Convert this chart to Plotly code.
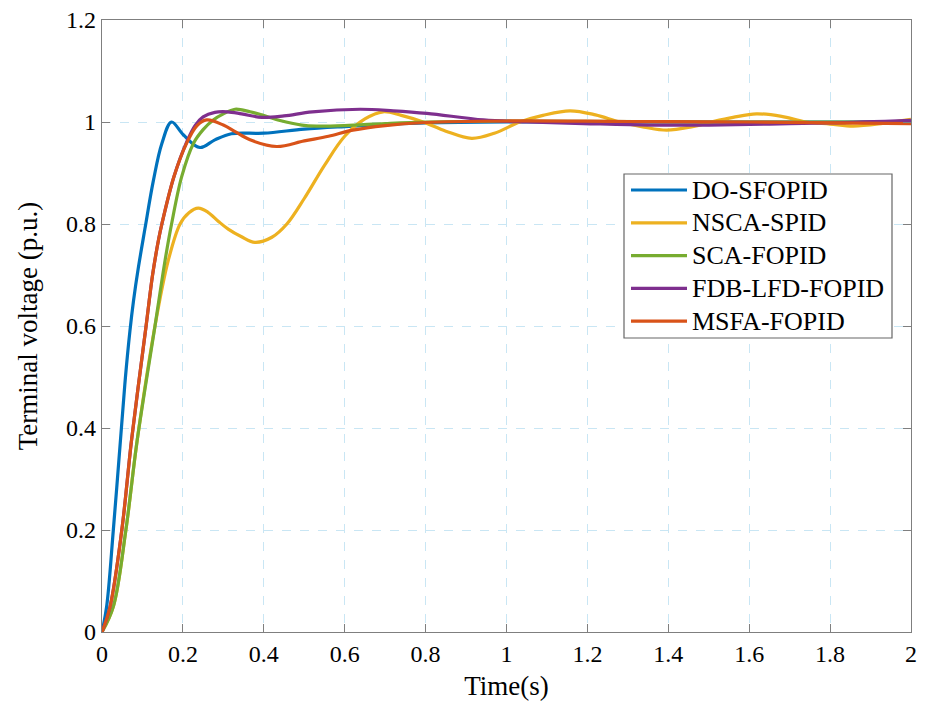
import plotly.graph_objects as go

# ---- data ----
t_do = [0, 0.0115, 0.028, 0.047, 0.058, 0.069, 0.078, 0.09, 0.106, 0.127, 0.148, 0.172, 0.201, 0.242, 0.279, 0.32, 0.4, 0.5, 0.6, 0.7, 0.8, 1.0, 1.5, 2.0]
v_do = [0, 0.05, 0.2, 0.39, 0.5, 0.59, 0.65, 0.715, 0.79, 0.885, 0.958, 1.0, 0.975, 0.950, 0.965, 0.977, 0.978, 0.986, 0.991, 0.995, 0.998, 1.0, 1.0, 1.0]

t_nsca = [0, 0.028, 0.059, 0.087, 0.131, 0.164, 0.193, 0.215, 0.238, 0.262, 0.288, 0.312, 0.345, 0.378, 0.42, 0.457, 0.5, 0.55, 0.6, 0.65, 0.695, 0.74, 0.794, 0.85, 0.914, 0.97, 1.033, 1.09, 1.157, 1.22, 1.28, 1.34, 1.396, 1.46, 1.507, 1.56, 1.618, 1.68, 1.74, 1.8, 1.857, 1.93, 2.0]
v_nsca = [0, 0.05, 0.2, 0.376, 0.6, 0.729, 0.8, 0.822, 0.831, 0.823, 0.805, 0.79, 0.775, 0.764, 0.774, 0.8, 0.85, 0.915, 0.972, 1.006, 1.020, 1.013, 1.0, 0.982, 0.968, 0.978, 1.0, 1.013, 1.022, 1.014, 1.0, 0.99, 0.984, 0.991, 1.0, 1.009, 1.016, 1.011, 1.0, 0.996, 0.992, 0.997, 1.005]

t_sca = [0, 0.028, 0.059, 0.087, 0.131, 0.156, 0.172, 0.197, 0.226, 0.25, 0.275, 0.3, 0.329, 0.366, 0.395, 0.44, 0.494, 0.53, 0.6, 0.7, 0.8, 1.0, 1.5, 2.0]
v_sca = [0, 0.05, 0.2, 0.376, 0.6, 0.729, 0.8, 0.893, 0.958, 0.985, 1.004, 1.016, 1.025, 1.020, 1.014, 1.003, 0.994, 0.992, 0.993, 0.997, 1.0, 1.002, 1.0, 1.0]

t_fdb = [0, 0.020, 0.049, 0.073, 0.109, 0.125, 0.14, 0.148, 0.178, 0.21, 0.23, 0.25, 0.279, 0.31, 0.345, 0.395, 0.45, 0.52, 0.638, 0.72, 0.803, 0.943, 1.05, 1.19, 1.355, 1.5, 1.65, 1.8, 2.0]
v_fdb = [0, 0.05, 0.2, 0.376, 0.6, 0.7, 0.77, 0.8, 0.893, 0.962, 0.993, 1.01, 1.019, 1.02, 1.016, 1.009, 1.012, 1.02, 1.025, 1.022, 1.017, 1.004, 1.0, 0.997, 0.994, 0.994, 0.996, 0.998, 1.003]

t_msfa = [0, 0.020, 0.049, 0.073, 0.109, 0.125, 0.14, 0.148, 0.178, 0.209, 0.235, 0.259, 0.3, 0.329, 0.366, 0.432, 0.5, 0.56, 0.62, 0.7, 0.8, 1.0, 1.3, 1.6, 2.0]
v_msfa = [0, 0.05, 0.2, 0.376, 0.6, 0.7, 0.77, 0.8, 0.893, 0.958, 0.993, 1.004, 0.994, 0.981, 0.965, 0.952, 0.963, 0.972, 0.984, 0.993, 0.999, 1.002, 1.001, 1.0, 0.997]

names = ["DO-SFOPID", "NSCA-SPID", "SCA-FOPID", "FDB-LFD-FOPID", "MSFA-FOPID"]
times = [t_do, t_nsca, t_sca, t_fdb, t_msfa]
values = [v_do, v_nsca, v_sca, v_fdb, v_msfa]
colors = ["#0072BD", "#EDB120", "#77AC30", "#7E2F8E", "#D95319"]

FONT = "Liberation Serif"
W, H = 927, 708
ML, MR, MT, MB = 102, 16, 20, 76
PW, PH = W - ML - MR, H - MT - MB

def px_x(p):  # pixel -> paper
    return (p - ML) / PW

def px_y(p):
    return (H - MB - p) / PH

fig = go.Figure()
for name, t, v, c in zip(names, times, values, colors):
    fig.add_trace(go.Scatter(x=t, y=v, mode="lines", name=name, showlegend=False,
                             line=dict(color=c, width=3.2, shape="spline", smoothing=1.0)))

axis_common = dict(
    showline=True, linecolor="#7f7f7f", linewidth=1.3, mirror="ticks",
    ticks="inside", ticklen=8, tickcolor="#7f7f7f", tickwidth=1.3,
    showgrid=True, gridcolor="#c9e6f4", griddash="dash", gridwidth=1,
    zeroline=False, automargin=False,
    tickfont=dict(family=FONT, size=24, color="black"),
)

fig.update_xaxes(range=[0, 2], dtick=0.2, tick0=0,
                 title=dict(text="Time(s)", font=dict(family=FONT, size=27, color="black"), standoff=10),
                 **axis_common)
fig.update_yaxes(range=[0, 1.2], dtick=0.2, tick0=0,
                 title=dict(text="Terminal voltage (p.u.)", font=dict(family=FONT, size=27, color="black"), standoff=20),
                 **axis_common)

# custom legend box (layout only)
shapes = [dict(type="rect", xref="paper", yref="paper",
               x0=px_x(624), x1=px_x(892), y0=px_y(338), y1=px_y(174),
               line=dict(color="#666666", width=1.2), fillcolor="white", layer="above")]
annotations = []
for i, (name, c) in enumerate(zip(names, colors)):
    yc = 190 + i * 32.8
    shapes.append(dict(type="line", xref="paper", yref="paper",
                       x0=px_x(631), x1=px_x(687), y0=px_y(yc), y1=px_y(yc),
                       line=dict(color=c, width=3.2), layer="above"))
    annotations.append(dict(xref="paper", yref="paper", x=px_x(690), y=px_y(yc),
                            xanchor="left", yanchor="middle", showarrow=False,
                            text=name, font=dict(family=FONT, size=26, color="black")))

fig.update_layout(
    width=W, height=H,
    margin=dict(l=ML, r=MR, t=MT, b=MB),
    plot_bgcolor="white", paper_bgcolor="white",
    font=dict(family=FONT, color="black"),
    shapes=shapes, annotations=annotations,
    showlegend=False,
)

fig.write_html("out.html")
